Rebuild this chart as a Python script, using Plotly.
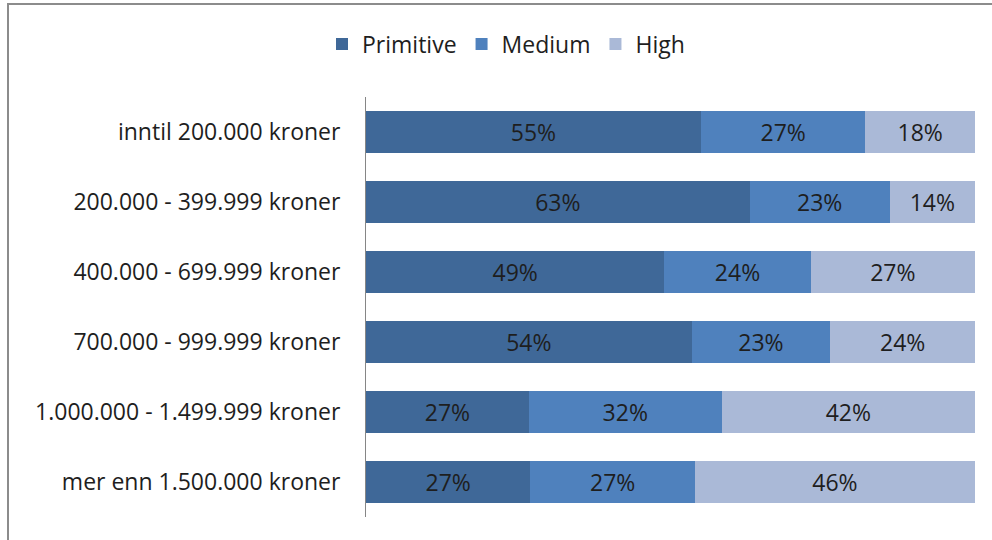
import plotly.graph_objects as go

categories = ["inntil 200.000 kroner", "200.000 - 399.999 kroner", "400.000 - 699.999 kroner",
              "700.000 - 999.999 kroner", "1.000.000 - 1.499.999 kroner", "mer enn 1.500.000 kroner"]
primitive = [55, 63, 49, 54, 27, 27]
medium = [27, 23, 24, 23, 32, 27]
high = [18, 14, 27, 24, 42, 46]

series = [("Primitive", primitive, "#3F6898"), ("Medium", medium, "#4F81BD"), ("High", high, "#AAB9D7")]

FONT = "Open Sans"
fig = go.Figure()
for name, vals, col in series:
    fig.add_trace(go.Bar(
        y=categories, x=vals, name=name, orientation="h",
        marker=dict(color=col, line=dict(width=0)),
        text=[f"{v}%" for v in vals], textposition="inside", insidetextanchor="middle",
        textfont=dict(family=FONT, size=23, color="#1E1E1E"),
        constraintext="none", hoverinfo="skip",
    ))

W, H = 992, 540
L, R, T, B = 366, 975, 97, 517

def px(x):
    return (x - L) / (R - L)

def py(y):
    return (B - y) / (B - T)

fig.update_layout(
    width=W, height=H, barmode="stack", barnorm="percent", bargap=0.386,
    margin=dict(l=L, r=W - R, t=T, b=H - B, pad=0),
    paper_bgcolor="white", plot_bgcolor="white",
    font=dict(family=FONT, size=23, color="#1E1E1E"),
    showlegend=True,
    legend=dict(orientation="h", x=px(506), xanchor="center", y=py(44), yanchor="middle",
                font=dict(family=FONT, size=23, color="#1E1E1E"), traceorder="normal",
                itemwidth=30),
    xaxis=dict(range=[0, 100], visible=False, fixedrange=True),
    yaxis=dict(autorange="reversed", showline=True, linecolor="#868686", linewidth=1,
               ticks="", showgrid=False, ticklabelstandoff=20, fixedrange=True,
               tickfont=dict(family=FONT, size=23, color="#1E1E1E")),
    shapes=[dict(type="rect", xref="paper", yref="paper",
                 x0=px(8), x1=px(1010), y0=py(560), y1=py(4),
                 line=dict(color="#8C8C8C", width=2), fillcolor="rgba(0,0,0,0)", layer="below")],
)

fig.write_html("out.html", config={"displayModeBar": False, "staticPlot": True},
               post_script="document.body.style.margin='0';document.body.style.overflow='hidden';")
